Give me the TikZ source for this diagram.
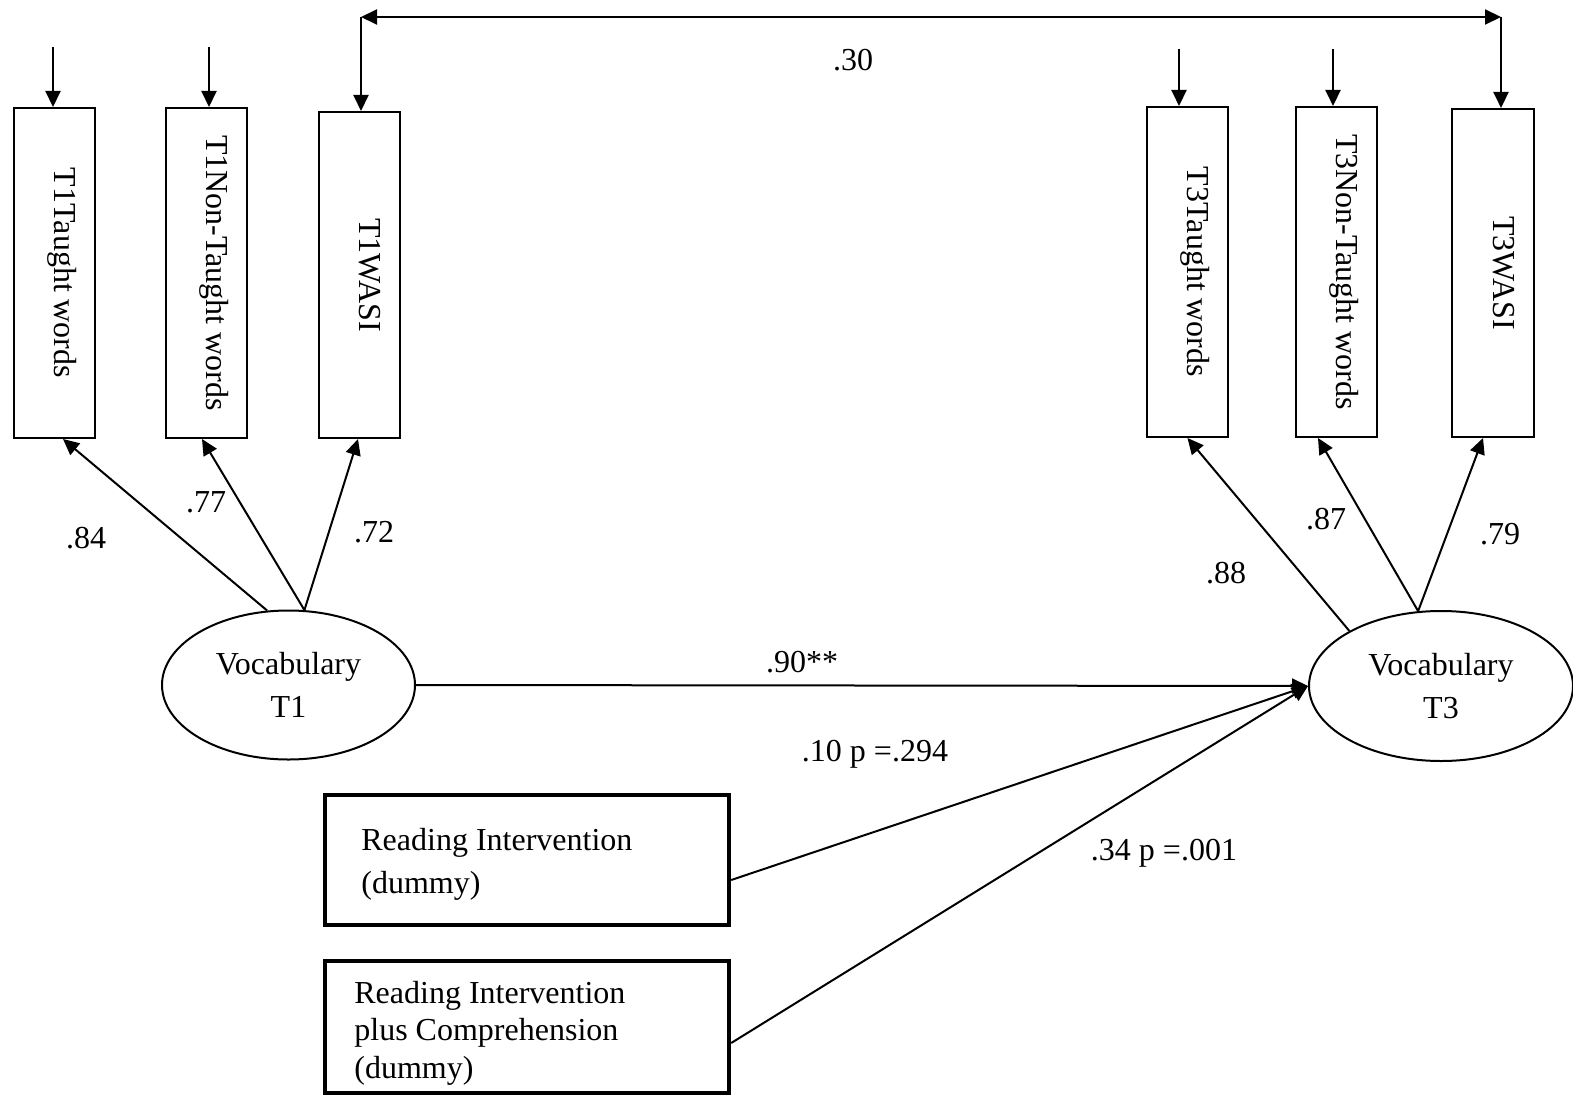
\documentclass[tikz,border=0pt]{standalone}
\usepackage{fontspec}
\setmainfont{Liberation Serif}
\usetikzlibrary{arrows.meta,shapes.geometric}
\begin{document}
\begin{tikzpicture}[x=0.5pt,y=-0.5pt,
  every node/.style={font=\fontsize{16}{21.5}\selectfont},
  obs/.style={draw, line width=1pt, inner sep=0pt, minimum width=40.5pt, minimum height=165pt},
  dummybox/.style={draw, line width=2.2pt, inner sep=0pt, minimum width=202pt},
  lat/.style={draw, ellipse, line width=1pt, inner sep=0pt, align=center},
  arr/.style={line width=1pt, -{Triangle[length=8pt,width=7.5pt]}},
  darr/.style={line width=1pt, {Triangle[length=8pt,width=7.5pt]}-{Triangle[length=8pt,width=7.5pt]}},
  vtext/.style={rotate=-90, anchor=base, inner sep=0pt},
  coef/.style={inner sep=0pt}
]
\useasboundingbox[fill=white] (0,0) rectangle (1573,1097);

% observed indicators
\node[obs] (b1) at (54.5,273) {};
\node[obs] (b2) at (206.5,273) {};
\node[obs, minimum height=163pt] (b3) at (359.5,275) {};
\node[obs] (b4) at (1187.5,272) {};
\node[obs] (b5) at (1336.5,272) {};
\node[obs, minimum width=41pt, minimum height=164pt] (b6) at (1493,273) {};

\node[vtext] (t1) at (b1.center) {T1Taught words};
\node[vtext] (t2) at (b2.center) {T1Non-Taught words};
\node[vtext] (t3) at (b3.center) {T1WASI};
\node[vtext] (t4) at (b4.center) {T3Taught words};
\node[vtext] (t5) at (b5.center) {T3Non-Taught words};
\node[vtext] (t6) at (b6.center) {T3WASI};

% latent variables
\node[lat, minimum width=126.5pt, minimum height=74.5pt] (v1) at (288.5,685) {Vocabulary\\T1};
\node[lat, minimum width=132pt, minimum height=75pt] (v3) at (1441,686) {Vocabulary\\T3};

% dummy boxes
\node[dummybox, minimum height=65pt] (d1) at (527,860) {};
\node[dummybox, minimum height=66pt] (d2) at (527,1027) {};
\node[anchor=west, align=left, inner sep=0pt] (d1t) at (361,864) {Reading Intervention\\(dummy)};
\node[anchor=west, align=left, inner sep=0pt, font=\fontsize{16}{18.75}\selectfont] (d2t) at (354,1033) {Reading Intervention\\plus Comprehension\\(dummy)};

% error arrows
\coordinate (e1) at (53,47);
\coordinate (e2) at (209,47);
\coordinate (e4) at (1179,49);
\coordinate (e5) at (1333,49);
\draw[arr] (e1) -- (e1 |- b1.north);
\draw[arr] (e2) -- (e2 |- b2.north);
\draw[arr] (e4) -- (e4 |- b4.north);
\draw[arr] (e5) -- (e5 |- b5.north);

% covariance
\coordinate (c1) at (361,17);
\coordinate (c2) at (1501,17);
\draw[darr] (c1) -- (c2);
\draw[arr] (c1) -- (c1 |- b3.north);
\draw[arr] (c2) -- (c2 |- b6.north);

% loadings
\draw[arr] (v1.106.7) -- ([xshift=4.25pt]b1.south);
\draw[arr] (v1.78.3) -- ([xshift=-2.25pt]b2.south);
\draw[arr] (v1.78.3) -- ([xshift=-0.75pt]b3.south);
\draw[arr] (v3.149.8) -- (b4.south);
\draw[arr] (v3.107) -- ([xshift=-9.25pt]b5.south);
\draw[arr] (v3.107) -- ([xshift=-5pt]b6.south);

% structural paths
\draw[arr] (v1.east) -- (v3.west);
\draw[arr] ([yshift=-10pt]d1.east) -- (v3.west);
\draw[arr] ([yshift=-8pt]d2.east) -- (v3.west);

% coefficients
\node[coef] (l30) at (853,60) {.30};
\node[coef] (l84) at (86,538) {.84};
\node[coef] (l77) at (206,502) {.77};
\node[coef] (l72) at (374,532) {.72};
\node[coef] (l88) at (1226,573) {.88};
\node[coef] (l87) at (1326,519) {.87};
\node[coef] (l79) at (1500,534) {.79};
\node[coef] (l90) at (802,662) {.90**};
\node[coef] (l10) at (875,754) {.10 p =.294};
\node[coef] (l34) at (1164,853) {.34 p =.001};
\end{tikzpicture}
\end{document}
